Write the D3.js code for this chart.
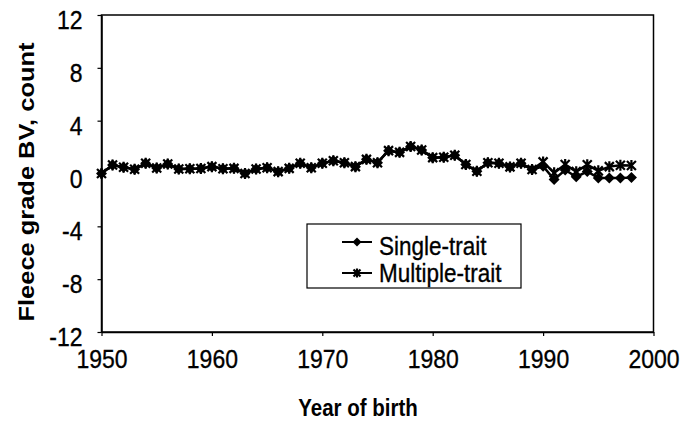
<!DOCTYPE html>
<html><head><meta charset="utf-8">
<script src="https://cdn.jsdelivr.net/npm/d3@7"></script>
<style>
html,body{margin:0;padding:0;background:#fff;}
svg{display:block;font-family:"Liberation Sans",Arial,sans-serif;}
</style></head>
<body>
<svg id="chart" width="694" height="424"></svg>
<script>
const years = d3.range(1950, 1999);
const singleTrait = [0.0,0.64,0.47,0.32,0.77,0.42,0.72,0.34,0.36,0.38,
  0.52,0.36,0.39,0.0,0.34,0.44,0.14,0.39,0.77,0.44,
  0.77,0.97,0.82,0.52,1.07,0.82,1.73,1.6,2.05,1.78,
  1.2,1.23,1.38,0.68,0.17,0.82,0.77,0.5,0.77,0.3,
  0.55,-0.45,0.27,-0.25,0.15,-0.35,-0.35,-0.35,-0.3];
const multipleTrait = [0.0,0.64,0.47,0.32,0.77,0.42,0.72,0.34,0.36,0.38,
  0.52,0.36,0.39,0.0,0.34,0.44,0.14,0.39,0.77,0.44,
  0.77,0.97,0.82,0.52,1.07,0.82,1.73,1.6,2.05,1.78,
  1.2,1.23,1.38,0.68,0.17,0.82,0.77,0.5,0.77,0.3,
  0.88,0.05,0.68,0.14,0.66,0.2,0.52,0.62,0.6];
const xTicks = [1950,1960,1970,1980,1990,2000];
const yTicks = [-12,-8,-4,0,4,8,12];
const seriesNames = ["Single-trait","Multiple-trait"];
const xTitle = "Year of birth";
const yTitle = "Fleece grade BV, count";

const svg = d3.select("#chart");
const L = 101.5, R = 653.5, T = 15, B = 332;
const SY = 1.15;
const fmt = d => String(d);
const x = d3.scaleLinear().domain([1950,2000]).range([L,R]);
const y = d3.scaleLinear().domain([-12,12]).range([B,T]);

// frame
svg.append("rect").attr("x",L).attr("y",T).attr("width",R-L).attr("height",B-T)
  .attr("fill","none").attr("stroke","#000").attr("stroke-width",1.5);

// x axis
const gx = svg.append("g").attr("transform",`translate(0,${B})`)
  .call(d3.axisBottom(x).tickValues(xTicks).tickFormat(fmt).tickSize(4).tickSizeOuter(0));
gx.select(".domain").attr("stroke","#000").attr("stroke-width",1.5);
gx.selectAll(".tick line").attr("stroke","#000").attr("stroke-width",1.2);
gx.selectAll(".tick text").attr("y",null).attr("dy",null)
  .attr("transform",`translate(0,36) scale(1,${SY})`)
  .attr("font-size",23).attr("font-family","Liberation Sans, Arial, sans-serif").attr("fill","#000")
  .attr("stroke","#000").attr("stroke-width",0.3);

// y axis
const gy = svg.append("g").attr("transform",`translate(${L},0)`)
  .call(d3.axisLeft(y).tickValues(yTicks).tickFormat(fmt).tickSize(4).tickSizeOuter(0));
gy.select(".domain").attr("stroke","#000").attr("stroke-width",1.5);
gy.selectAll(".tick line").attr("stroke","#000").attr("stroke-width",1.2);
gy.selectAll(".tick text").attr("x",null).attr("dy",null)
  .attr("transform",`translate(-19,13.5) scale(1,${SY})`)
  .attr("font-size",23).attr("font-family","Liberation Sans, Arial, sans-serif").attr("fill","#000")
  .attr("stroke","#000").attr("stroke-width",0.3);

// titles
svg.append("text").attr("transform",`translate(358,416) scale(1,1.2)`)
  .attr("text-anchor","middle").attr("font-weight","bold").attr("font-size",20.5).text(xTitle);
svg.append("text").attr("transform",`translate(34,182) rotate(-90)`)
  .attr("text-anchor","middle").attr("font-weight","bold").attr("font-size",22)
  .attr("textLength",279).attr("lengthAdjust","spacingAndGlyphs").text(yTitle);

// markers
const diamond = (g, cx, cy, r) => g.append("path")
  .attr("d", `M${cx},${cy-r}L${cx+r},${cy}L${cx},${cy+r}L${cx-r},${cy}Z`).attr("fill","#000");
const star = (g, cx, cy, r) => g.append("path")
  .attr("d", `M${cx-r},${cy-r}L${cx+r},${cy+r}M${cx-r},${cy+r}L${cx+r},${cy-r}M${cx},${cy-r-1}L${cx},${cy+r+1}`)
  .attr("stroke","#000").attr("stroke-width",2.2).attr("fill","none");

const line = d3.line().x(d=>x(d[0])).y(d=>y(d[1]));
const dS = years.map((yr,i)=>[yr,singleTrait[i]]);
const dM = years.map((yr,i)=>[yr,multipleTrait[i]]);
const gd = svg.append("g");
gd.append("path").attr("d",line(dS)).attr("fill","none").attr("stroke","#000").attr("stroke-width",2.5);
gd.append("path").attr("d",line(dM)).attr("fill","none").attr("stroke","#000").attr("stroke-width",2.5);
dS.forEach(d=>diamond(gd, x(d[0]), y(d[1]), 5.5));
dM.forEach(d=>star(gd, x(d[0]), y(d[1]), 4.5));

// legend
const lg = svg.append("g");
lg.append("rect").attr("x",307).attr("y",224).attr("width",214).attr("height",64)
  .attr("fill","#fff").attr("stroke","#000").attr("stroke-width",1.2);
const rows = [242,273];
lg.append("line").attr("x1",342).attr("x2",372).attr("y1",rows[0]).attr("y2",rows[0]).attr("stroke","#000").attr("stroke-width",2);
diamond(lg,357,rows[0],4.5);
lg.append("line").attr("x1",342).attr("x2",372).attr("y1",rows[1]).attr("y2",rows[1]).attr("stroke","#000").attr("stroke-width",2);
star(lg,357,rows[1],3.5);
lg.append("text").attr("transform",`translate(379,255) scale(1,${SY})`).attr("font-size",22.5)
  .attr("stroke","#000").attr("stroke-width",0.3).text(seriesNames[0]);
lg.append("text").attr("transform",`translate(379,282) scale(1,${SY})`).attr("font-size",22.5)
  .attr("stroke","#000").attr("stroke-width",0.3).text(seriesNames[1]);
</script>
</body></html>
